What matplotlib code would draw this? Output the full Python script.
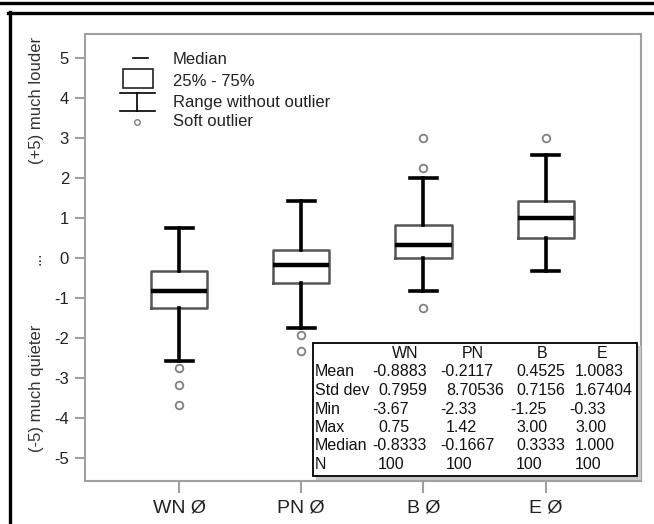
import matplotlib
matplotlib.use("Agg")
import matplotlib.pyplot as plt
from matplotlib.lines import Line2D
from matplotlib.patches import Rectangle

plt.rcParams['font.family'] = ['Liberation Sans', 'DejaVu Sans']

# box plot values
groups = ['WN', 'PN', 'B', 'E']
tick_labels = ['WN Ø', 'PN Ø', 'B Ø', 'E Ø']
medians = [-0.8333, -0.1667, 0.3333, 1.0]
q1 = [-1.25, -0.625, 0.0, 0.5]
q3 = [-0.33, 0.2, 0.83, 1.42]
whisker_low = [-2.58, -1.75, -0.83, -0.33]
whisker_high = [0.75, 1.42, 2.0, 2.58]
outliers = [[-2.75, -3.17, -3.67], [-1.92, -2.33], [-1.25, 2.25, 3.0], [3.0]]
y_ticks = [5, 4, 3, 2, 1, 0, -1, -2, -3, -4, -5]

# summary table
stat_names = ['Mean', 'Std dev', 'Min', 'Max', 'Median', 'N']
stat_mean = ['-0.8883', '-0.2117', '0.4525', '1.0083']
stat_std = ['0.7959', '8.70536', '0.7156', '1.67404']
stat_min = ['-3.67', '-2.33', '-1.25', '-0.33']
stat_max = ['0.75', '1.42', '3.00', '3.00']
stat_median = ['-0.8333', '-0.1667', '0.3333', '1.000']
stat_n = ['100', '100', '100', '100']

W, H = 654, 524


def fx(x):
    return x / W


def fy(y):
    return 1 - y / H


fig = plt.figure(figsize=(W / 100, H / 100), dpi=100)
ax = fig.add_axes([fx(85), fy(481), (641 - 85) / W, (481 - 34) / H])

stats = []
for i in range(len(groups)):
    stats.append(dict(med=medians[i], q1=q1[i], q3=q3[i],
                      whislo=whisker_low[i], whishi=whisker_high[i],
                      fliers=outliers[i], label=tick_labels[i]))

ax.bxp(stats, positions=[1, 2, 3, 4], widths=0.46, capwidths=0.22,
       boxprops=dict(color='#555555', linewidth=1.8),
       medianprops=dict(color='black', linewidth=3.2),
       whiskerprops=dict(color='black', linewidth=2.6),
       capprops=dict(color='black', linewidth=2.6),
       flierprops=dict(marker='o', markerfacecolor='none',
                       markeredgecolor='#808080', markersize=5.5,
                       markeredgewidth=1.3))

ax.set_xlim(0.23, 4.78)
ax.set_ylim(-5.58, 5.6)
ax.set_yticks(y_ticks)
ax.set_yticklabels([str(t) for t in y_ticks])
for s in ax.spines.values():
    s.set_color('#a0a0a0')
    s.set_linewidth(1.5)
ax.tick_params(axis='y', direction='out', length=7.5, width=1.5, pad=4,
               color='#a0a0a0', labelcolor='#222222', labelsize=12)
ax.tick_params(axis='x', direction='out', length=8.5, width=1.5, pad=5,
               color='#a0a0a0', labelcolor='#222222', labelsize=14)

# y label pieces
fig.text(fx(36), fy(100), '(+5) much louder', rotation=90, ha='center',
         va='center', fontsize=12, color='#333333')
fig.text(fx(36), fy(258), '...', rotation=90, ha='center', va='center',
         fontsize=12, color='#333333')
fig.text(fx(36), fy(388), '(-5) much quieter', rotation=90, ha='center',
         va='center', fontsize=12, color='#333333')

# legend symbols
tf = fig.transFigure
fig.add_artist(Line2D([fx(133), fx(148)], [fy(58), fy(58)], color='black',
                      lw=1.2, transform=tf))
fig.add_artist(Rectangle((fx(123), fy(88)), (153 - 123) / W, (88 - 69) / H,
                         fill=False, edgecolor='#222222', lw=1.2, transform=tf))
fig.add_artist(Line2D([fx(120), fx(155)], [fy(93), fy(93)], color='black',
                      lw=1.2, transform=tf))
fig.add_artist(Line2D([fx(120), fx(155)], [fy(111), fy(111)], color='black',
                      lw=1.2, transform=tf))
fig.add_artist(Line2D([fx(137), fx(137)], [fy(93), fy(111)], color='black',
                      lw=1.2, transform=tf))
fig.add_artist(Line2D([fx(137)], [fy(122)], marker='o', markersize=4,
                      markerfacecolor='none', markeredgecolor='#808080',
                      markeredgewidth=1.0, transform=tf))
legend_text = ['Median', '25% - 75%', 'Range without outlier', 'Soft outlier']
for txt, yy in zip(legend_text, [60, 82, 103, 122]):
    fig.text(fx(173), fy(yy), txt, ha='left', va='center', fontsize=12,
             color='#222222')

# stats table
fig.add_artist(Rectangle((fx(316), fy(480)), (641 - 316) / W, (480 - 346) / H,
                         facecolor='#c8c8c8', edgecolor='none', transform=tf))
fig.add_artist(Rectangle((fx(313), fy(476)), (637 - 313) / W, (476 - 343) / H,
                         facecolor='white', edgecolor='black', lw=1.3,
                         transform=tf))
header_x = [405, 473, 542, 602]
col_x = [378, 446, 516, 575]
row_y = [372, 390.5, 409, 427.5, 446, 464.5]
for g, hx in zip(groups, header_x):
    fig.text(fx(hx), fy(354), g, ha='center', va='center', fontsize=11.5,
             color='#111111')
rows = [stat_mean, stat_std, stat_min, stat_max, stat_median, stat_n]
for name, vals, yy in zip(stat_names, rows, row_y):
    fig.text(fx(315), fy(yy), name, ha='left', va='center', fontsize=11.5,
             color='#111111')
    for v, cx in zip(vals, col_x):
        x0 = cx - 6 if v.startswith('-') else cx
        fig.text(fx(x0), fy(yy), v, ha='left', va='center', fontsize=11.5,
                 color='#111111')

# outer frame lines
fig.add_artist(Line2D([0, 1], [fy(2.5), fy(2.5)], color='black', lw=2.4,
                      transform=tf))
fig.add_artist(Line2D([fx(8), 1], [fy(13), fy(13)], color='black', lw=2.4,
                      transform=tf))
fig.add_artist(Line2D([fx(9.5), fx(9.5)], [fy(12), 0], color='black', lw=2.4,
                      transform=tf))

fig.savefig('out.png', dpi=100)
